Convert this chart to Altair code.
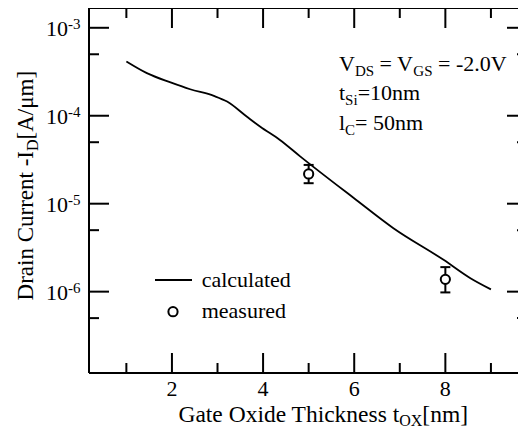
import altair as alt
import pandas as pd

FONT = "Liberation Serif"

# ---- data ----
curve_x = [1.0, 1.45, 1.97, 2.4, 2.92, 3.21, 3.64, 3.94, 4.37, 4.82, 5.99, 6.86, 7.96, 8.55, 9.0]
curve_y = [4.14e-4, 3.05e-4, 2.39e-4, 2.0e-4, 1.68e-4, 1.45e-4, 9.8e-5, 7.5e-5, 5.3e-5,
           3.43e-5, 1.16e-5, 5.26e-6, 2.30e-6, 1.42e-6, 1.06e-6]
meas_x = [5.0, 8.0]
meas_y = [2.18e-5, 1.38e-6]
meas_lo = [1.71e-5, 9.8e-7]
meas_hi = [2.76e-5, 1.90e-6]

x_major = [2, 4, 6, 8]
x_minor = [1, 3, 5, 7, 9]
x_labels = ["2", "4", "6", "8"]
y_major = [1e-3, 1e-4, 1e-5, 1e-6]
y_minor = [5e-4, 5e-5, 5e-6, 5e-7]
y_base = ["10", "10", "10", "10"]
y_exp = ["-3", "-4", "-5", "-6"]

legend_labels = ["calculated", "measured"]
ann_lines = [
    [("V", 0), ("DS", 1), (" = V", 0), ("GS", 1), (" = -2.0V", 0)],
    [("t", 0), ("Si", 1), ("=10nm", 0)],
    [("l", 0), ("C", 1), ("= 50nm", 0)],
]
x_title = ["Gate Oxide Thickness t", "OX", "[nm]"]
y_title = ["Drain Current -I", "D", "[A/\u03bcm]"]

# ---- layout ----
PXU = 45.57           # pixels per nm on x
W, H = 429, 365
FS, SFS = 22, 15
XT, YT = 23.5, 23
xs = alt.Scale(domain=[0.18, 0.18 + W / PXU], nice=False, zero=False)
ys = alt.Scale(type="log", domain=[10 ** -6.925, 10 ** -2.775], nice=False)
RX = W + 9            # the right frame lies just beyond the visible area

WID = {' ': 250, '-': 333, '.': 250, '=': 564, '[': 333, ']': 333, '/': 278, '0': 500, '1': 500,
       '2': 500, '5': 500, 'A': 722, 'C': 667, 'D': 722, 'G': 722, 'I': 333, 'O': 722, 'S': 556,
       'T': 611, 'V': 722, 'X': 722, 'a': 444, 'c': 444, 'd': 500, 'e': 444, 'h': 500, 'i': 278,
       'k': 500, 'l': 278, 'm': 778, 'n': 500, 'r': 333, 's': 389, 't': 278, 'u': 500, 'x': 500,
       '\u03bc': 576}


def tw(s, size):
    return sum(WID.get(c, 500) for c in s) * size / 1000.0


def txt(s, x, y, size=FS, align="left", angle=0):
    kw = dict(align=align, baseline="alphabetic", fontSize=size, font=FONT, color="black")
    if angle:
        kw["angle"] = angle
    return alt.Chart(pd.DataFrame({"t": [s]})).mark_text(**kw).encode(
        x=alt.value(x), y=alt.value(y), text="t:N")


one = pd.DataFrame({"d": [0]})
layers = []

# frame
layers.append(alt.Chart(one).mark_rule(color="black", strokeWidth=2).encode(
    x=alt.value(0), x2=alt.value(RX), y=alt.value(0)))
layers.append(alt.Chart(one).mark_rule(color="black", strokeWidth=2).encode(
    x=alt.value(0), x2=alt.value(RX), y=alt.value(H)))
layers.append(alt.Chart(one).mark_rule(color="black", strokeWidth=2).encode(
    x=alt.value(0), y=alt.value(0), y2=alt.value(H)))

# x ticks (bottom & top, inward)
for vals, L in ((x_major, 20), (x_minor, 10)):
    d = pd.DataFrame({"v": vals})
    for y0, y1 in ((H, H - L), (0, L)):
        layers.append(alt.Chart(d).mark_rule(color="black", strokeWidth=2).encode(
            x=alt.X("v:Q", scale=xs, axis=None), y=alt.value(y0), y2=alt.value(y1)))
# y ticks (left & right, inward)
for vals, L in ((y_major, 20), (y_minor, 10)):
    d = pd.DataFrame({"v": vals})
    for x0, x1 in ((0, L), (RX, RX - L)):
        layers.append(alt.Chart(d).mark_rule(color="black", strokeWidth=2).encode(
            y=alt.Y("v:Q", scale=ys, axis=None), x=alt.value(x0), x2=alt.value(x1)))

# tick labels
xl = pd.DataFrame({"v": x_major, "t": x_labels})
layers.append(alt.Chart(xl).mark_text(fontSize=FS, font=FONT, align="center", baseline="alphabetic",
                                      color="black").encode(
    x=alt.X("v:Q", scale=xs, axis=None), y=alt.value(H + 23), text="t:N"))
yl = pd.DataFrame({"v": y_major, "b": y_base, "e": y_exp})
layers.append(alt.Chart(yl).mark_text(fontSize=FS, font=FONT, align="right", baseline="alphabetic",
                                      dy=8, color="black").encode(
    y=alt.Y("v:Q", scale=ys, axis=None), x=alt.value(-21), text="b:N"))
layers.append(alt.Chart(yl).mark_text(fontSize=SFS, font=FONT, align="left", baseline="alphabetic",
                                      dy=1, color="black").encode(
    y=alt.Y("v:Q", scale=ys, axis=None), x=alt.value(-21), text="e:N"))

# calculated curve
cdf = pd.DataFrame({"x": curve_x, "y": curve_y})
layers.append(alt.Chart(cdf).mark_line(color="black", strokeWidth=1.8, interpolate="monotone").encode(
    x=alt.X("x:Q", scale=xs, axis=None), y=alt.Y("y:Q", scale=ys, axis=None)))

# measured with error bars
mdf = pd.DataFrame({"x": meas_x, "y": meas_y, "lo": meas_lo, "hi": meas_hi})
layers.append(alt.Chart(mdf).mark_rule(color="black", strokeWidth=2).encode(
    x=alt.X("x:Q", scale=xs, axis=None), y=alt.Y("lo:Q", scale=ys, axis=None), y2="hi:Q"))
for col in ("lo", "hi"):
    layers.append(alt.Chart(mdf).mark_rule(color="black", strokeWidth=2, xOffset=-5, x2Offset=5).encode(
        x=alt.X("x:Q", scale=xs, axis=None), x2="x:Q", y=alt.Y(f"{col}:Q", scale=ys, axis=None)))
layers.append(alt.Chart(mdf).mark_circle(size=85, color="white", stroke="black", strokeWidth=2,
                                         opacity=1).encode(
    x=alt.X("x:Q", scale=xs, axis=None), y=alt.Y("y:Q", scale=ys, axis=None)))

# legend
layers.append(alt.Chart(one).mark_rule(color="black", strokeWidth=1.8).encode(
    x=alt.value(66), x2=alt.value(103), y=alt.value(272)))
layers.append(alt.Chart(one).mark_circle(size=85, color="white", stroke="black", strokeWidth=2,
                                         opacity=1).encode(x=alt.value(84), y=alt.value(303.7)))
layers.append(txt(legend_labels[0], 112.7, 279))
layers.append(txt(legend_labels[1], 112.7, 310.3))

# annotation with subscripts
for line, base in zip(ann_lines, (63, 92, 122)):
    cx = 250.0
    for s, sub in line:
        size = SFS if sub else FS
        lead = len(s) - len(s.lstrip(" "))
        trail = len(s) - len(s.rstrip(" "))
        cx += tw(" " * lead, size)
        core = s.strip(" ")
        layers.append(txt(core, cx, base + (5 if sub else 0), size))
        cx += tw(core, size) + tw(" " * trail, size)

# x title
P = 89.0 + tw(x_title[0], XT)
layers.append(txt(x_title[0], P, 414, XT, align="right"))
layers.append(txt(x_title[1], P, 418, 16))
layers.append(txt(x_title[2], P + tw(x_title[1], 16), 414, XT))

# y title (rotated)
Q = 62 + tw(y_title[2], YT) + tw(y_title[1], 16)
layers.append(txt(y_title[0], -56, Q, YT, align="right", angle=270))
layers.append(txt(y_title[1], -51, Q, 16, align="left", angle=270))
layers.append(txt(y_title[2], -56, Q - tw(y_title[1], 16), YT, align="left", angle=270))

chart = alt.layer(*layers).properties(
    width=W, height=H,
    padding={"left": 81, "top": 0, "right": 0, "bottom": 55},
    autosize=alt.AutoSizeParams(type="none"),
    background="white",
).configure_view(stroke=None)

chart.save("out.html", embed_options={"renderer": "svg", "actions": False})
